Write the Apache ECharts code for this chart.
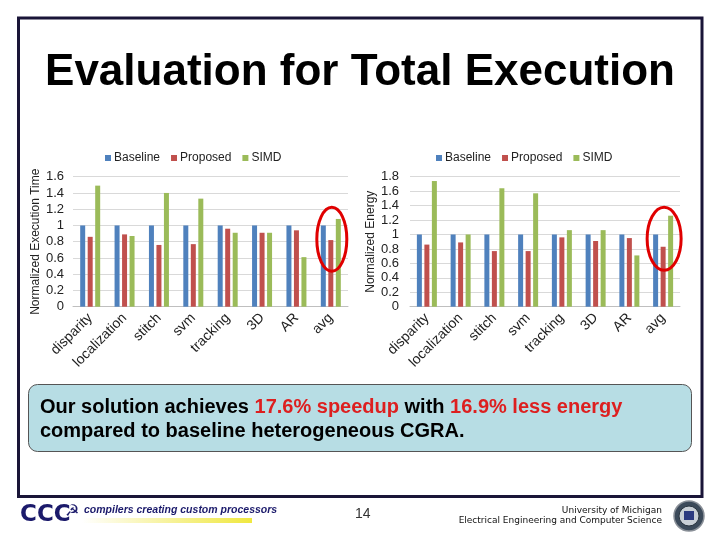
<!DOCTYPE html>
<html><head><meta charset="utf-8">
<script src="https://cdn.jsdelivr.net/npm/echarts@6/dist/echarts.min.js"></script>
<style>html,body{margin:0;padding:0;background:#fff}#c{width:720px;height:540px}</style>
</head><body><div id="c"></div>
<script>
const categories = ['disparity','localization','stitch','svm','tracking','3D','AR','avg'];
const timeBaseline = [1, 1, 1, 1, 1, 1, 1, 1];
const timeProposed = [0.86, 0.89, 0.76, 0.77, 0.96, 0.91, 0.94, 0.82];
const timeSIMD     = [1.49, 0.87, 1.40, 1.33, 0.91, 0.91, 0.61, 1.08];
const energyBaseline = [1, 1, 1, 1, 1, 1, 1, 1];
const energyProposed = [0.86, 0.89, 0.77, 0.77, 0.96, 0.91, 0.95, 0.83];
const energySIMD     = [1.74, 1.00, 1.64, 1.57, 1.06, 1.06, 0.71, 1.26];
const timeTicks = {min: 0, max: 1.6, interval: 0.2};
const energyTicks = {min: 0, max: 1.8, interval: 0.2};
const seriesNames = ['Baseline', 'Proposed', 'SIMD'];
const colors = ['#4F81BD', '#C0504D', '#9BBB59'];

const chart = echarts.init(document.getElementById('c'), null, {renderer: 'canvas'});
const F = 'Liberation Sans, Arial, sans-serif';

function bar(name, data, xi, ci) {
  return {name, type: 'bar', data, xAxisIndex: xi, yAxisIndex: xi,
    barWidth: 5, barGap: '50%', itemStyle: {color: colors[ci]}, silent: true};
}
function xAxis(gi) {
  return {type: 'category', data: categories, gridIndex: gi,
    axisLine: {lineStyle: {color: '#bfbfbf'}}, axisTick: {show: false},
    axisLabel: {rotate: 45, fontSize: 14, color: '#222', fontFamily: F, margin: 9, interval: 0}};
}
function yAxis(gi, t, name, gap, margin) {
  return {type: 'value', gridIndex: gi, min: t.min, max: t.max, interval: t.interval,
    name, nameLocation: 'middle', nameGap: gap, nameRotate: 90,
    nameTextStyle: {fontSize: 12, color: '#222', fontFamily: F},
    axisLabel: {fontSize: 13, color: '#222', fontFamily: F, margin},
    splitLine: {lineStyle: {color: '#d9d9d9'}}, axisLine: {show: false}, axisTick: {show: false}};
}
function legend(left) {
  return {data: seriesNames, top: 147, left, icon: 'rect', itemWidth: 6, itemHeight: 6,
    itemGap: 11, textStyle: {fontSize: 12, color: '#222', fontFamily: F, padding: [0,0,0,-2]}};
}

chart.setOption({
  animation: false,
  title: {text: 'Evaluation for Total Execution', left: 'center', top: 46,
    textStyle: {fontSize: 44, fontWeight: 'bold', color: '#000', fontFamily: F}},
  legend: [legend(100), legend(431)],
  grid: [
    {left: 73, right: 372, top: 176.7, bottom: 233.3},
    {left: 410, right: 40, top: 176.7, bottom: 233.3}
  ],
  xAxis: [xAxis(0), xAxis(1)],
  yAxis: [yAxis(0, timeTicks, 'Normalized Execution Time', 27, 9), yAxis(1, energyTicks, 'Normalized Energy', 33, 11)],
  series: [
    bar('Baseline', timeBaseline, 0, 0), bar('Proposed', timeProposed, 0, 1), bar('SIMD', timeSIMD, 0, 2),
    bar('Baseline', energyBaseline, 1, 0), bar('Proposed', energyProposed, 1, 1), bar('SIMD', energySIMD, 1, 2)
  ]
});

// annotation ellipses around 'avg', placed through the axes
const pL = chart.convertToPixel({xAxisIndex: 0, yAxisIndex: 0}, ['avg', 0.83]);
const pR = chart.convertToPixel({xAxisIndex: 1, yAxisIndex: 1}, ['avg', 0.94]);

chart.setOption({
  graphic: [
    {type: 'rect', shape: {x: 18.5, y: 18, width: 683.5, height: 478.5},
      style: {fill: 'none', stroke: '#1a1538', lineWidth: 3}, z: 0, silent: true},
    {type: 'ellipse', shape: {cx: pL[0] + 1, cy: pL[1], rx: 15, ry: 32},
      style: {fill: 'none', stroke: '#e00000', lineWidth: 3}, z: 10},
    {type: 'ellipse', shape: {cx: pR[0] + 1, cy: pR[1], rx: 17, ry: 31.5},
      style: {fill: 'none', stroke: '#e00000', lineWidth: 3}, z: 10},
    {type: 'rect', shape: {x: 28.5, y: 384.5, width: 663, height: 67, r: 9},
      style: {fill: '#b7dde4', stroke: '#555', lineWidth: 1}, z: 5},
    {type: 'text', left: 40, top: 395, z: 6,
      style: {text: '{b|Our solution achieves }{r|17.6% speedup}{b| with }{r|16.9% less energy}\n{b|compared to baseline heterogeneous CGRA.}',
        lineHeight: 24,
        rich: {
          b: {fontSize: 20, fontWeight: 'bold', fill: '#000', fontFamily: F, lineHeight: 24},
          r: {fontSize: 20, fontWeight: 'bold', fill: '#dd1f1f', fontFamily: F, lineHeight: 24}
        }}},
    // footer
    {type: 'text', left: 355, top: 507, style: {text: '14', fontSize: 14, fill: '#333', fontFamily: F}},
    {type: 'text', left: 20, top: 504, style: {text: 'CCC', fontSize: 23, fontWeight: 'bold', fill: '#1b1a6b', fontFamily: 'DejaVu Sans, sans-serif'}},
    {type: 'text', left: 65, top: 504, style: {text: '\u262D', fontSize: 16, fill: '#1b1a6b', fontFamily: 'DejaVu Sans, sans-serif'}},
    {type: 'rect', shape: {x: 82, y: 518, width: 170, height: 5},
      style: {fill: new echarts.graphic.LinearGradient(0, 0, 1, 0, [{offset: 0, color: '#ffffff'}, {offset: 0.6, color: '#f5f08a'}, {offset: 1, color: '#f0e840'}])}},
    {type: 'text', left: 84, top: 505, style: {text: 'compilers creating custom processors', fontSize: 10.5, fontStyle: 'italic', fontWeight: 'bold', fill: '#1b1a6b', fontFamily: F}},
    {type: 'text', right: 58, top: 506, style: {text: 'University of Michigan', fontSize: 9, fill: '#111', fontFamily: 'DejaVu Sans, sans-serif', align: 'right'}},
    {type: 'text', right: 58, top: 516, style: {text: 'Electrical Engineering and Computer Science', fontSize: 9, fill: '#111', fontFamily: 'DejaVu Sans, sans-serif', align: 'right'}},
    {type: 'circle', shape: {cx: 689, cy: 516, r: 15}, style: {fill: '#3c4a5a', stroke: '#8a9098', lineWidth: 1.5}},
    {type: 'circle', shape: {cx: 689, cy: 516, r: 10}, style: {fill: '#c9cfd6', stroke: '#2a3540', lineWidth: 1}},
    {type: 'rect', shape: {x: 684, y: 511, width: 10, height: 9}, style: {fill: '#2c3a80'}}
  ]
});
</script>
</body></html>
